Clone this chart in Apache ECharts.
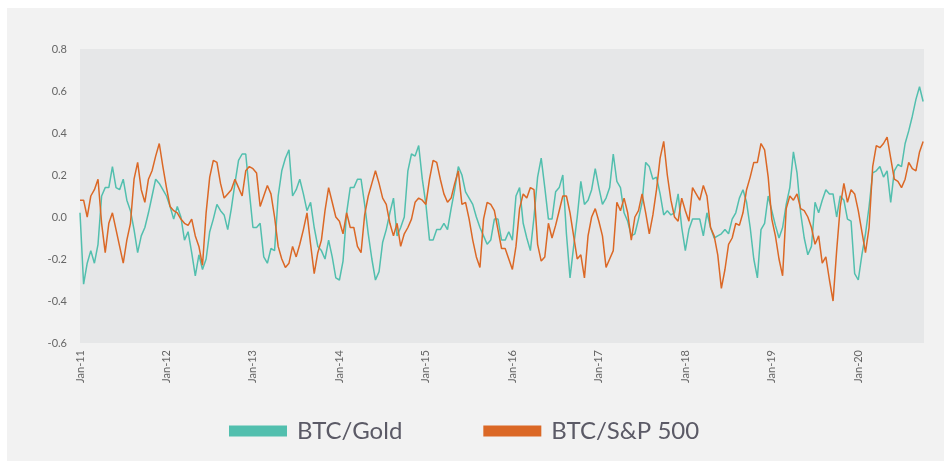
<!DOCTYPE html>
<html>
<head>
<meta charset="utf-8">
<script src="https://cdn.jsdelivr.net/npm/echarts@6/dist/echarts.min.js"></script>
<style>
  html, body { margin: 0; padding: 0; background: #ffffff; }
  #panel { position: absolute; left: 7px; top: 8px; width: 937px; height: 453px; background: #f2f2f2; }
  #chart { position: absolute; left: 0; top: 0; width: 944px; height: 461px; }
</style>
</head>
<body>
<div id="panel"></div>
<div id="chart"></div>
<script>
// rolling correlation, read at half-month steps from Jan 2011
const startYear = 2011;
const stepsPerYear = 24;
const tickLabels = ['Jan-11', 'Jan-12', 'Jan-13', 'Jan-14', 'Jan-15', 'Jan-16', 'Jan-17', 'Jan-18', 'Jan-19', 'Jan-20'];

const btcGold = [
  0.02,-0.32,-0.22,-0.16,-0.22,-0.13,0.10,0.14,0.14,0.24,0.14,0.13,0.18,0.08,0.03,-0.06,-0.17,-0.09,-0.05,0.02,0.10,0.18,0.16,0.13,
  0.10,0.05,-0.01,0.05,0.00,-0.11,-0.07,-0.17,-0.28,-0.18,-0.25,-0.20,-0.07,-0.01,0.06,0.03,0.01,-0.06,0.04,0.16,0.27,0.30,0.30,0.12,
  -0.05,-0.05,-0.03,-0.19,-0.22,-0.15,-0.16,0.10,0.22,0.28,0.32,0.10,0.13,0.18,0.11,0.03,0.07,-0.05,-0.14,-0.16,-0.20,-0.11,-0.19,-0.29,
  -0.30,-0.21,0.02,0.14,0.14,0.18,0.18,0.06,-0.08,-0.20,-0.30,-0.26,-0.12,-0.06,0.02,0.09,-0.09,-0.05,0.00,0.22,0.30,0.29,0.34,0.18,
  0.06,-0.11,-0.11,-0.06,-0.06,-0.03,-0.06,0.04,0.13,0.24,0.20,0.12,0.09,0.06,0.00,-0.05,-0.09,-0.13,-0.11,-0.01,-0.01,-0.11,-0.11,-0.07,
  -0.11,0.10,0.14,-0.03,-0.10,-0.16,0.00,0.19,0.28,0.14,-0.01,-0.01,0.12,0.14,0.20,-0.08,-0.29,-0.14,0.00,0.17,0.06,0.08,0.13,0.23,
  0.14,0.06,0.09,0.14,0.30,0.17,0.14,0.02,-0.02,-0.09,-0.08,-0.01,0.07,0.26,0.24,0.18,0.19,0.11,0.01,0.03,0.01,0.02,0.11,-0.05,
  -0.16,-0.06,-0.01,-0.01,-0.01,-0.09,0.02,-0.05,-0.10,-0.09,-0.08,-0.06,-0.08,-0.01,0.02,0.09,0.13,0.07,-0.05,-0.20,-0.29,-0.06,-0.03,0.10,
  0.03,-0.04,-0.10,-0.05,0.06,0.14,0.31,0.21,0.02,-0.10,-0.18,-0.14,0.07,0.02,0.08,0.13,0.11,0.11,0.00,0.10,0.08,-0.01,-0.02,-0.27,
  -0.30,-0.18,-0.08,0.05,0.21,0.22,0.24,0.19,0.22,0.07,0.22,0.25,0.24,0.35,0.41,0.48,0.56,0.62,0.55
];

const btcSp500 = [
  0.08,0.08,0.00,0.10,0.13,0.18,-0.03,-0.17,-0.03,0.02,-0.06,-0.14,-0.22,-0.11,-0.03,0.18,0.26,0.13,0.07,0.18,0.22,0.29,0.35,0.24,
  0.14,0.05,0.03,0.02,-0.01,-0.03,-0.04,-0.01,-0.09,-0.14,-0.23,0.02,0.19,0.27,0.26,0.16,0.09,0.11,0.13,0.18,0.14,0.10,0.22,0.24,
  0.23,0.21,0.05,0.10,0.15,0.11,0.00,-0.14,-0.20,-0.24,-0.22,-0.14,-0.19,-0.13,-0.06,0.02,-0.13,-0.27,-0.17,-0.11,0.03,0.14,0.07,0.00,
  -0.02,-0.08,0.02,-0.05,-0.05,-0.14,-0.17,0.01,0.10,0.16,0.22,0.16,0.09,0.06,-0.03,-0.09,-0.03,-0.14,-0.08,-0.05,-0.01,0.07,0.09,0.08,
  0.06,0.18,0.27,0.26,0.18,0.11,0.07,0.09,0.16,0.22,0.06,0.07,-0.01,-0.11,-0.19,-0.24,-0.01,0.07,0.06,0.03,-0.06,-0.15,-0.15,-0.20,
  -0.25,-0.14,0.04,0.11,0.09,0.14,0.13,-0.13,-0.21,-0.19,-0.03,-0.10,-0.04,0.03,0.10,0.10,0.02,-0.09,-0.20,-0.18,-0.29,-0.09,0.00,0.04,
  -0.02,-0.09,-0.24,-0.20,-0.16,0.07,0.03,0.09,0.02,-0.11,0.00,0.03,0.11,0.02,-0.08,0.01,0.13,0.28,0.36,0.20,0.08,0.00,-0.02,0.09,
  0.03,-0.02,0.14,0.11,0.08,0.15,0.10,-0.05,-0.09,-0.18,-0.34,-0.25,-0.13,-0.10,-0.03,-0.04,0.02,0.13,0.19,0.26,0.26,0.35,0.32,0.19,
  -0.01,-0.09,-0.20,-0.28,0.04,0.10,0.08,0.11,0.04,0.03,0.00,-0.05,-0.13,-0.09,-0.22,-0.19,-0.30,-0.40,-0.16,0.05,0.16,0.07,0.13,0.11,
  0.03,-0.07,-0.17,-0.05,0.24,0.34,0.33,0.35,0.38,0.28,0.18,0.17,0.14,0.18,0.26,0.23,0.22,0.31,0.36
];

const seriesNames = ['BTC/Gold', 'BTC/S&P 500'];
const seriesColors = ['#52bfae', '#db6826'];

function toPoints(values) {
  return values.map((v, i) => [startYear + i / stepsPerYear, v]);
}

const chart = echarts.init(document.getElementById('chart'));
chart.setOption({
  animation: false,
  textStyle: { fontFamily: 'Lato' },
  grid: {
    left: 80, right: 20, top: 49, bottom: 118,
    show: true, backgroundColor: '#e6e7e8', borderWidth: 0
  },
  legend: {
    data: seriesNames,
    left: 224, top: 414,
    icon: 'rect',
    itemWidth: 58, itemHeight: 11, itemGap: 81,
    textStyle: { fontSize: 24, color: '#5b5a66', fontFamily: 'Lato', padding: [0, 0, 0, 5] }
  },
  xAxis: {
    type: 'value',
    min: 2011, max: 2020.76, interval: 1,
    axisLine: { show: false },
    axisTick: { show: false },
    splitLine: { show: false },
    axisLabel: {
      rotate: 90, margin: 7, fontSize: 11, color: '#666666',
      formatter: v => {
        const i = Math.round(v - startYear);
        return Math.abs(v - startYear - i) < 1e-6 ? (tickLabels[i] || '') : '';
      }
    }
  },
  yAxis: {
    type: 'value',
    min: -0.6, max: 0.8, interval: 0.2,
    axisLine: { show: false },
    axisTick: { show: false },
    splitLine: { show: false },
    axisLabel: { margin: 13, fontSize: 11, color: '#666666', formatter: v => v.toFixed(1) }
  },
  series: [
    { name: seriesNames[0], type: 'line', data: toPoints(btcGold), showSymbol: false, color: seriesColors[0], lineStyle: { width: 1.5 } },
    { name: seriesNames[1], type: 'line', data: toPoints(btcSp500), showSymbol: false, color: seriesColors[1], lineStyle: { width: 1.5 } }
  ]
});
</script>
</body>
</html>
